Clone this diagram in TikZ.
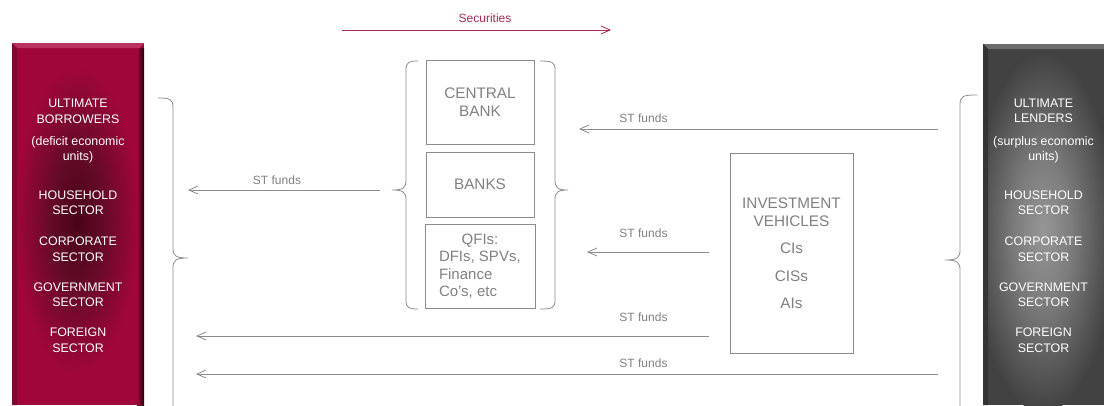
\documentclass[tikz,border=0pt]{standalone}
\usepackage{fontspec}
\setmainfont{Liberation Sans}
\usetikzlibrary{arrows.meta}

\definecolor{crim}{HTML}{A1063A}
\definecolor{crimdark}{HTML}{4A0318}
\definecolor{crimmid}{HTML}{620A27}
\definecolor{crimlight}{HTML}{BA3360}
\definecolor{crimedge}{HTML}{7E0A30}
\definecolor{slate}{HTML}{424242}
\definecolor{slatelight}{HTML}{969696}
\definecolor{slatemid}{HTML}{7C7C7C}
\definecolor{slatetop}{HTML}{6C6C6C}
\definecolor{slateedge}{HTML}{343434}
\definecolor{linegray}{HTML}{8C8C8C}
\definecolor{txtgray}{HTML}{808080}
\definecolor{secred}{HTML}{A82A50}

% soft glows in the middle of the two sector columns
\pgfdeclareradialshading{borrowglow}{\pgfpointorigin}{color(0bp)=(crimdark); color(10bp)=(crimmid); color(25bp)=(crim); color(50bp)=(crim)}
\pgfdeclareradialshading{lendglow}{\pgfpointorigin}{color(0bp)=(slatelight); color(10bp)=(slatemid); color(25bp)=(slate); color(50bp)=(slate)}

\tikzset{
  bartext/.style={text=white, align=center, font=\fontsize{12.4}{15.5}\selectfont, inner sep=0pt},
  boxnode/.style={draw=linegray, line width=0.8pt, text=txtgray, font=\fontsize{15.3}{18}\selectfont, align=center, inner sep=0pt},
  flow/.style={draw=linegray, line width=0.8pt, -{Straight Barb[length=9pt,width=8pt]}},
  flowlabel/.style={text=txtgray, font=\fontsize{12}{14}\selectfont, inner sep=0pt},
  bracket/.style={draw=linegray, line width=0.8pt},
}

\begin{document}
\begin{tikzpicture}[x=1pt,y=-1pt]
\useasboundingbox (0,0) rectangle (1104,405);

% ---- ultimate borrowers column ----
\begin{scope}
  \clip (12,43) rectangle (144,405);
  \fill[crim] (12,43) rectangle (144,405);
  \shade[shading=borrowglow] (77,220) ellipse [x radius=62, y radius=155];
  \fill[crimlight] (12,43) -- (144,43) -- (139,48) -- (17,48) -- cycle;
  \fill[crimedge] (12,43) -- (17,48) -- (17,405) -- (12,405) -- cycle;
  \shade[left color=crim, right color=black!80!crim] (137,48) rectangle (144,405);
  \fill[crimlight] (137,43) -- (144,43) -- (139,48) -- (137,48) -- cycle;
\end{scope}

\node[bartext] (b1) at (78,111.5) {ULTIMATE\\BORROWERS};
\node[bartext] (b2) at (78,149.7) {(deficit economic\\units)};
\node[bartext] (b3) at (78,202.7) {HOUSEHOLD\\SECTOR};
\node[bartext] (b4) at (78,249) {CORPORATE\\SECTOR};
\node[bartext] (b5) at (78,294.7) {GOVERNMENT\\SECTOR};
\node[bartext] (b6) at (78,340) {FOREIGN\\SECTOR};

% ---- ultimate lenders column ----
\begin{scope}
  \clip (983,44) rectangle (1104,405);
  \fill[slate] (983,44) rectangle (1104,405);
  \shade[shading=lendglow] (1043,232) ellipse [x radius=72, y radius=180];
  \fill[slatetop] (983,44) -- (1104,44) -- (1104,49) -- (988,49) -- cycle;
  \fill[slateedge] (983,44) -- (988,49) -- (988,405) -- (983,405) -- cycle;
\end{scope}

\node[bartext] (l1) at (1043.5,110.7) {ULTIMATE\\LENDERS};
\node[bartext] (l2) at (1043.5,149.7) {(surplus economic\\units)};
\node[bartext] (l3) at (1043.5,202.7) {HOUSEHOLD\\SECTOR};
\node[bartext] (l4) at (1043.5,249) {CORPORATE\\SECTOR};
\node[bartext] (l5) at (1043.5,294.7) {GOVERNMENT\\SECTOR};
\node[bartext] (l6) at (1043.5,340) {FOREIGN\\SECTOR};

% ---- intermediaries ----
\node[boxnode, minimum width=108pt, minimum height=84pt] (cb) at (480,102) {CENTRAL\\BANK};
\node[boxnode, minimum width=108pt, minimum height=65pt] (banks) at (480,184.5) {BANKS};
\node[boxnode, minimum width=110pt, minimum height=84pt, align=left,
      font=\fontsize{15}{17.5}\selectfont] (qfi) at (480,266)
      {\makebox[82pt]{QFIs:}\\DFIs, SPVs,\\Finance\\Co's, etc};
\node[boxnode, minimum width=123pt, minimum height=200pt] (iv) at (791.5,253)
      {INVESTMENT\\VEHICLES\\[9pt]CIs\\[10pt]CISs\\[9pt]AIs};

% ---- braces ----
\draw[bracket] (158,98) .. controls (170,98) and (173,99) .. (173,108) -- (173,248)
  .. controls (173,256) and (176,258) .. (188,258)
  .. controls (176,258) and (173,260) .. (173,268) -- (173,410);
\draw[bracket] (418,61) .. controls (409,61) and (406,62) .. (406,70) -- (406,180)
  .. controls (406,188) and (403,190) .. (392,190)
  .. controls (403,190) and (406,192) .. (406,200) -- (406,300)
  .. controls (406,308) and (409,309) .. (418,309);
\draw[bracket] (540,61) .. controls (552,61) and (555,62) .. (555,70) -- (555,180)
  .. controls (555,188) and (558,190) .. (568,190)
  .. controls (558,190) and (555,192) .. (555,200) -- (555,300)
  .. controls (555,308) and (552,309) .. (540,309);
\draw[bracket] (977,95) .. controls (963,95) and (960,96) .. (960,105) -- (960,250)
  .. controls (960,258) and (957,260) .. (945,260)
  .. controls (957,260) and (960,262) .. (960,270) -- (960,410);

% ---- flows ----
\coordinate (secfrom) at (342,30);
\coordinate (secto) at (611,30);
\draw[flow, draw=secred] (secfrom) -- (secto);
\node[flowlabel, text=secred] (seclbl) at (485,18) {Securities};

\coordinate (f1from) at (938,129);
\coordinate (f1to) at (579,129);
\draw[flow] (f1from) -- (f1to);
\node[flowlabel] (f1lbl) at (643.5,118) {ST funds};

\coordinate (f2from) at (380,190);
\coordinate (f2to) at (188,190);
\draw[flow] (f2from) -- (f2to);
\node[flowlabel] (f2lbl) at (277,180) {ST funds};

\coordinate (f3from) at (709,252);
\coordinate (f3to) at (587,252);
\draw[flow] (f3from) -- (f3to);
\node[flowlabel] (f3lbl) at (643.5,233.5) {ST funds};

\coordinate (f4from) at (709,336);
\coordinate (f4to) at (196,336);
\draw[flow] (f4from) -- (f4to);
\node[flowlabel] (f4lbl) at (643.5,317.5) {ST funds};

\coordinate (f5from) at (938,374);
\coordinate (f5to) at (196,374);
\draw[flow] (f5from) -- (f5to);
\node[flowlabel] (f5lbl) at (643.5,363.5) {ST funds};
\end{tikzpicture}
\end{document}
